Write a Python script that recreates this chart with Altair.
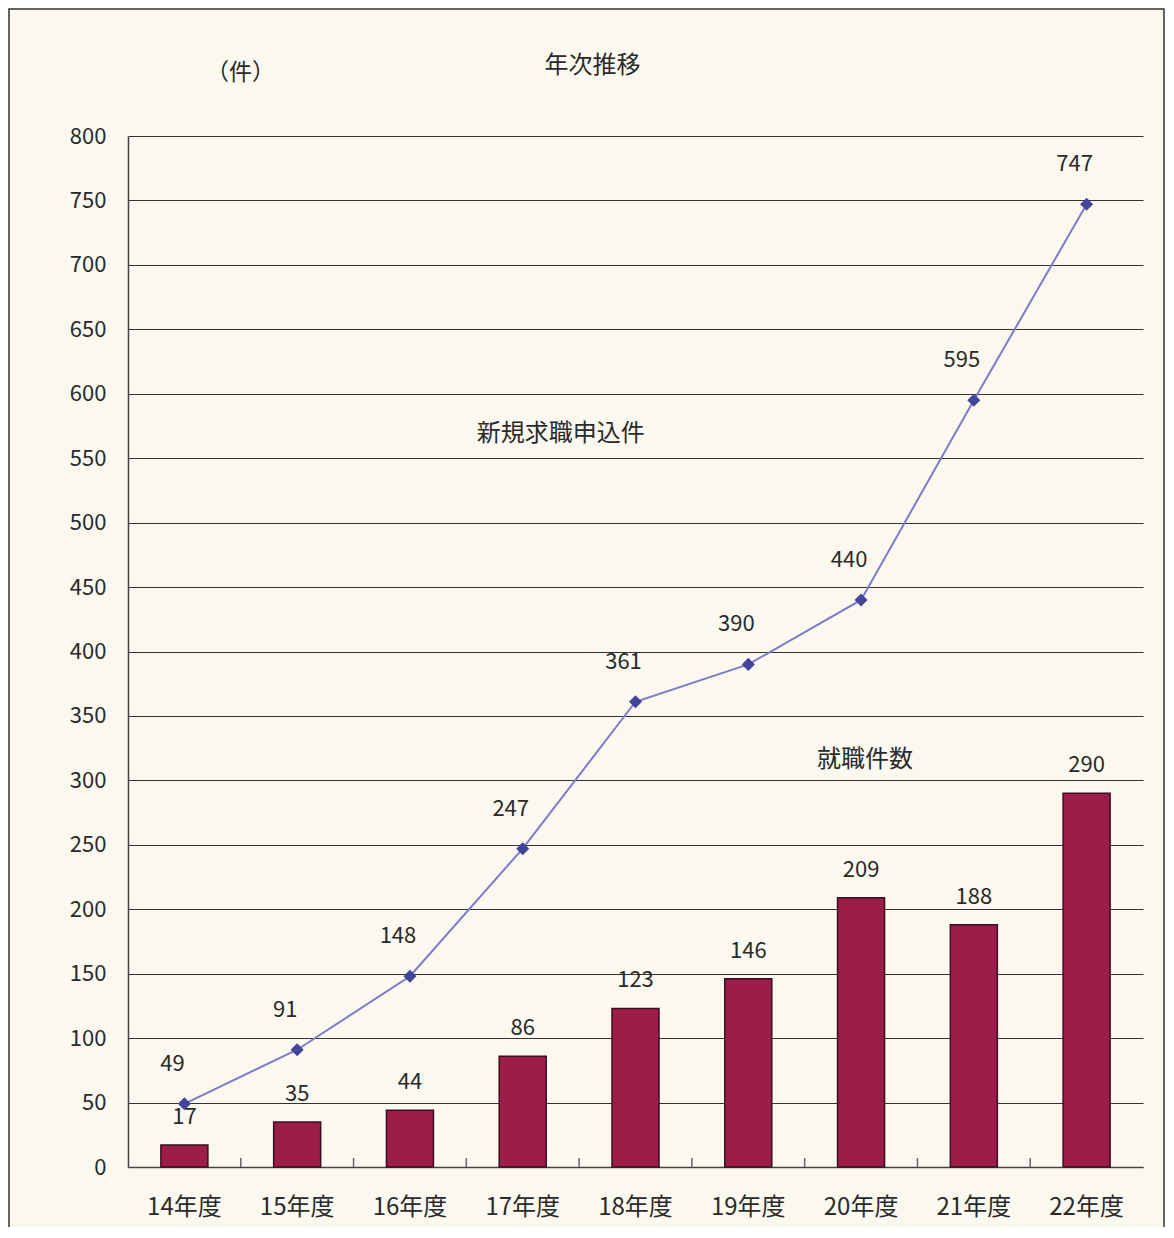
import altair as alt
import pandas as pd

years = ["14年度", "15年度", "16年度", "17年度", "18年度", "19年度", "20年度", "21年度", "22年度"]
applications = [49, 91, 148, 247, 361, 390, 440, 595, 747]   # 新規求職申込件
placements = [17, 35, 44, 86, 123, 146, 209, 188, 290]        # 就職件数
y_ticks = list(range(0, 801, 50))

FONT = "Noto Sans CJK JP"
TXT = "#2a2a2a"

df = pd.DataFrame({"year": years, "apps": applications, "jobs": placements})

W, H = 1015, 1031
step = W / len(years)

x = alt.X("year:N", sort=years, title=None,
          scale=alt.Scale(paddingInner=0, paddingOuter=0),
          axis=alt.Axis(labelAngle=0, labelFont=FONT, labelFontSize=24, labelColor=TXT,
                        labelPadding=28, ticks=False, domainColor="#444", domainWidth=1.5,
                        grid=False))
yscale = alt.Scale(domain=[0, 800])

base = alt.Chart(df)

bars = base.mark_bar(size=47, color="#9b1d48", stroke="#3b0f1f", strokeWidth=1.5).encode(
    x=x,
    y=alt.Y("jobs:Q", scale=yscale,
            axis=alt.Axis(values=y_ticks, title="（件）", titleAngle=0, titleX=112, titleY=-52,
                          titleFont=FONT, titleFontSize=23, titleFontWeight="normal",
                          titleColor=TXT, labelFont=FONT, labelFontSize=22, labelColor=TXT,
                          labelPadding=22, ticks=False, domainColor="#444", domainWidth=1.5,
                          grid=True, gridColor="#333", gridWidth=1.2)),
)

bar_labels = base.mark_text(font=FONT, fontSize=22, color=TXT, dy=-28, baseline="middle").encode(
    x=alt.X("year:N", sort=years), y=alt.Y("jobs:Q", scale=yscale), text="jobs:Q"
)

line = base.mark_line(color="#7d7bca", strokeWidth=2).encode(
    x=alt.X("year:N", sort=years), y=alt.Y("apps:Q", scale=yscale)
)
pts = base.mark_point(shape="diamond", filled=True, color="#43459a", size=170, opacity=1).encode(
    x=alt.X("year:N", sort=years), y=alt.Y("apps:Q", scale=yscale)
)
line_labels = base.mark_text(font=FONT, fontSize=22, color=TXT, dy=-40, dx=-12, baseline="middle").encode(
    x=alt.X("year:N", sort=years), y=alt.Y("apps:Q", scale=yscale), text="apps:Q"
)

# inward ticks at category boundaries
tick_df = pd.DataFrame({"year": years[1:]})
ticks = alt.Chart(tick_df).mark_rule(color="#666", strokeWidth=1.5, xOffset=-step / 2).encode(
    x=alt.X("year:N", sort=years), y=alt.datum(0, scale=yscale), y2=alt.datum(7)
)

ann_df = pd.DataFrame({"year": ["17年度", "20年度"], "v": [569, 316],
                       "t": ["新規求職申込件", "就職件数"]})
ann1 = alt.Chart(ann_df.iloc[[0]]).mark_text(font=FONT, fontSize=24, color=TXT, dx=38).encode(
    x=alt.X("year:N", sort=years), y=alt.Y("v:Q", scale=yscale), text="t:N")
ann2 = alt.Chart(ann_df.iloc[[1]]).mark_text(font=FONT, fontSize=24, color=TXT, dx=4).encode(
    x=alt.X("year:N", sort=years), y=alt.Y("v:Q", scale=yscale), text="t:N")

frame = alt.Chart(pd.DataFrame({"a": [0]})).mark_rect(fill=None, stroke="#333", strokeWidth=1.5).encode(
    x=alt.value(-119), x2=alt.value(1036), y=alt.value(-127), y2=alt.value(1110)
)

chart = alt.layer(frame, bars, ticks, line, pts, bar_labels, line_labels, ann1, ann2).properties(
    width=W, height=H,
    title=alt.TitleParams("年次推移", anchor="middle", dx=-43, offset=0, dy=70, font=FONT,
                          fontSize=24, fontWeight="normal", color=TXT),
    autosize=alt.AutoSizeParams(type="none"),
    padding={"left": 120, "top": 128, "right": 22, "bottom": 60},
).configure(background="#fbf8ef").configure_view(stroke=None)

chart.save("out.html", embed_options={"renderer": "svg", "actions": False})
